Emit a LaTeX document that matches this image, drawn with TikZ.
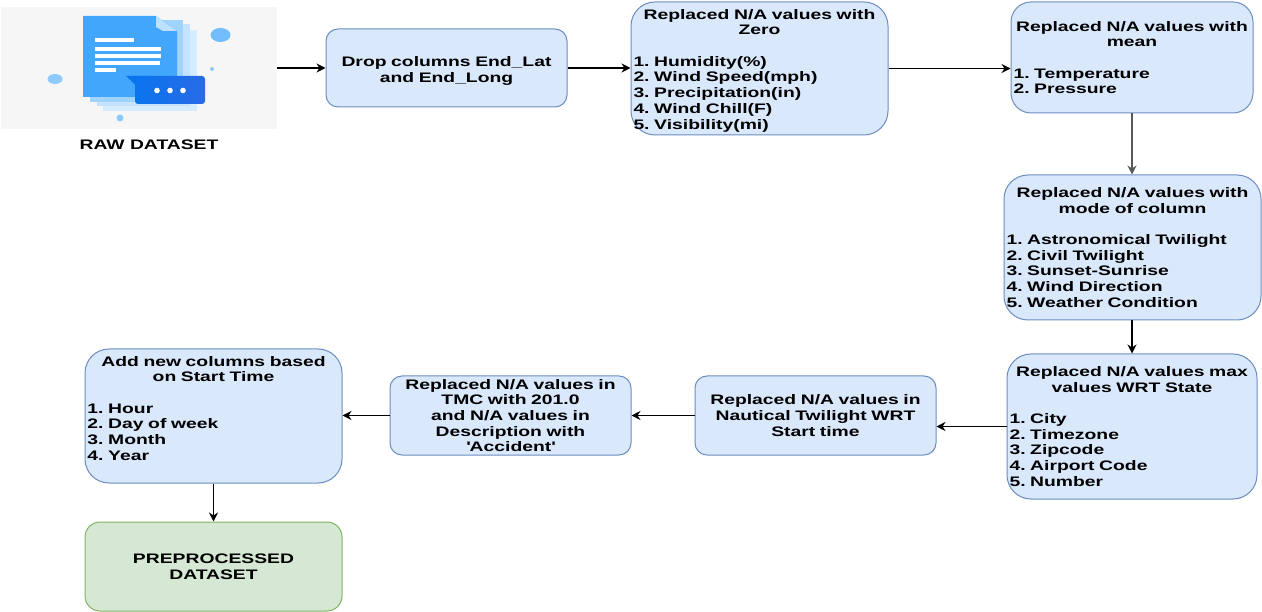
\documentclass[tikz,border=0pt]{standalone}
\usepackage{fontspec}
\setmainfont[FakeStretch=1.4]{Liberation Sans}
\usetikzlibrary{positioning, arrows.meta, calc}
\definecolor{boxfill}{HTML}{DAE8FC}
\definecolor{boxline}{HTML}{6C8EBF}
\definecolor{endfill}{HTML}{D5E8D4}
\definecolor{endline}{HTML}{82B366}
\definecolor{iconback}{HTML}{F6F6F6}
\definecolor{pagemain}{HTML}{42A7FC}
\definecolor{bubblea}{HTML}{0A74EE}
\definecolor{bubbleb}{HTML}{2A6AE6}
\newcommand{\lst}[1]{\makebox[\linewidth][l]{#1}}
\frenchspacing
\tikzset{
    stepbox/.style={draw=boxline, fill=boxfill, line width=1pt, align=center, inner sep=2pt,
        font=\fontsize{13.8}{15.7}\selectfont\bfseries},
    endbox/.style={stepbox, draw=endline, fill=endfill},
    flow/.style={-{Stealth[length=9pt, width=9pt]}, line width=1.2pt, black},
    dot/.style={fill=#1, draw=none}
}
\begin{document}
\begin{tikzpicture}[x=1pt, y=-1pt]
    \useasboundingbox (0,0) rectangle (1262,612);

    % === RAW DATASET ICON ===
    \node[fill=iconback, minimum width=276pt, minimum height=122pt, inner sep=0pt] (raw) at (139,68) {};
    \fill[pagemain!22] (103,30) rectangle (197,111);
    \fill[pagemain!32] (97,24) rectangle (190,106);
    \fill[pagemain!50] (90,20) rectangle (183,102);
    \fill[pagemain] (83,16) -- (156,16) -- (177,31) -- (177,97) -- (83,97) -- cycle;
    \fill[pagemain!35] (156,16) -- (177,31) -- (163,31) -- (156,27) -- cycle;
    \foreach \yy/\xx in {40/134, 49/161, 56/161, 63/160, 70/116}
        \fill[white] (95,\yy-2) rectangle (\xx,\yy+2);
    \fill[bubblea] (126,76) -- (150,76) -- (150,92) -- (143,92) -- cycle;
    \shade[left color=bubblea, right color=bubbleb, rounded corners=3pt] (135,76) rectangle (205,104);
    \foreach \xx in {157,170,183}
        \fill[white] (\xx,90.5) circle (2.8);
    \fill[dot=pagemain!75] (220.5,35) ellipse (10 and 7);
    \fill[dot=pagemain!60] (55,79) ellipse (7.5 and 5);
    \fill[dot=pagemain!60] (212,69) circle (2);
    \fill[dot=pagemain!60] (120,118) circle (3.5);
    \node[font=\fontsize{13.8}{15.7}\selectfont\bfseries, below=10pt of raw, xshift=10pt, inner sep=0pt] (rawlabel) {RAW DATASET};

    % === TOP ROW ===
    \node[stepbox, rounded corners=12pt, minimum width=241pt, minimum height=78pt, text width=236pt] (drop) at (446.5,68)
        {\rule{0pt}{15.5pt}Drop columns End\_Lat\\and End\_Long};
    \node[stepbox, rounded corners=24pt, minimum width=257pt, minimum height=133pt, text width=252pt] (zero) at (759.5,68.5)
        {\rule{0pt}{14pt}Replaced N/A values with\\Zero\\[15.7pt]
        \lst{1. Humidity(\%)}\\\lst{2. Wind Speed(mph)}\\\lst{3. Precipitation(in)}\\\lst{4. Wind Chill(F)}\\\lst{5. Visibility(mi)}};
    \node[stepbox, rounded corners=20pt, minimum width=242pt, minimum height=111pt, text width=237pt] (mean) at (1132,57.5)
        {Replaced N/A values with\\mean\\[15.7pt]
        \lst{1. Temperature}\\\lst{2. Pressure}};

    % === RIGHT COLUMN ===
    \node[stepbox, rounded corners=24pt, minimum width=257pt, minimum height=145pt, text width=252pt] (mode) at (1132.5,247.5)
        {Replaced N/A values with\\mode of column\\[15.7pt]
        \lst{1. Astronomical Twilight}\\\lst{2. Civil Twilight}\\\lst{3. Sunset-Sunrise}\\\lst{4. Wind Direction}\\\lst{5. Weather Condition}};
    \node[stepbox, rounded corners=24pt, minimum width=250pt, minimum height=145pt, text width=245pt] (maxv) at (1132,426.5)
        {Replaced N/A values max\\values WRT State\\[15.7pt]
        \lst{1. City}\\\lst{2. Timezone}\\\lst{3. Zipcode}\\\lst{4. Airport Code}\\\lst{5. Number}};

    % === BOTTOM ROW ===
    \node[stepbox, rounded corners=12pt, minimum width=241pt, minimum height=79pt, text width=236pt] (naut) at (815.5,415.5)
        {Replaced N/A values in\\Nautical Twilight WRT\\Start time};
    \node[stepbox, rounded corners=12pt, minimum width=241pt, minimum height=79pt, text width=236pt] (tmc) at (510.5,415.5)
        {Replaced N/A values in\\TMC with 201.0\\and N/A values in\\Description with\\\textquotesingle Accident\textquotesingle};
    \node[stepbox, rounded corners=24pt, minimum width=257pt, minimum height=134pt, text width=252pt] (addc) at (213.5,416)
        {Add new columns based\\on Start Time\\[15.7pt]
        \lst{1. Hour}\\\lst{2. Day of week}\\\lst{3. Month}\\\lst{4. Year}\\\mbox{}};
    \node[endbox, rounded corners=15pt, minimum width=257pt, minimum height=89pt, text width=252pt] (prep) at (213.5,566.5)
        {PREPROCESSED\\DATASET};

    % === CONNECTORS ===
    \draw[flow] (raw.east) -- (raw.east -| drop.west);
    \draw[flow] (drop.east) -- (drop.east -| zero.west);
    \draw[flow] (zero.east) -- (zero.east -| mean.west);
    \draw[flow, black!65, line width=2pt] (mean.south) -- (mode.north -| mean.south);
    \draw[flow, line width=1.6pt] (mode.south -| maxv.north) -- (maxv.north);
    \draw[flow] (maxv.west) -- (maxv.west -| naut.east);
    \draw[flow] (naut.west) -- (naut.west -| tmc.east);
    \draw[flow] (tmc.west) -- (tmc.west -| addc.east);
    \draw[flow, line width=1.6pt] (addc.south) -- (prep.north);
\end{tikzpicture}
\end{document}
